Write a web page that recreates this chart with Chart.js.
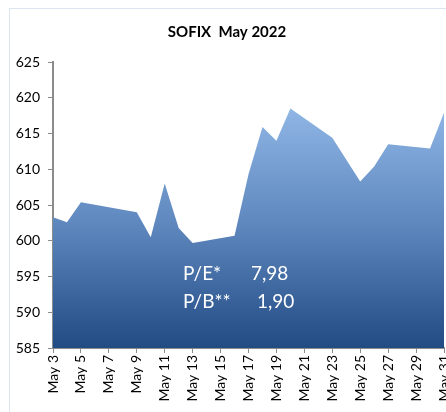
<!DOCTYPE html>
<html>
<head>
<meta charset="utf-8">
<script src="https://cdn.jsdelivr.net/npm/chart.js@4/dist/chart.umd.min.js"></script>
<style>
  body { margin: 0; overflow: hidden; background: #fff; width: 446px; height: 412px; }
  #box { position: absolute; left: 9px; top: 8px; width: 480px; height: 420px;
         border-left: 1px solid #dce6f2; border-top: 1px solid #dce6f2; }
  canvas { display: block; }
</style>
</head>
<body>
<div id="box"><canvas id="sofix" width="480" height="420"></canvas></div>
<script>
// every calendar day from May 3 to May 31, null = no trading
const days = [3,4,5,6,7,8,9,10,11,12,13,14,15,16,17,18,19,20,21,22,23,24,25,26,27,28,29,30,31];
const labels = days.map(d => "May " + d);
const sofix = [603.3, 602.6, 605.4, null, null, null, 604.0, 600.5, 608.0, 601.8, 599.7, null, null,
               600.7, 609.3, 615.9, 614.0, 618.5, null, null, 614.4, null, 608.3, 610.4, 613.5,
               null, null, 612.9, 617.9];
const notes = [["P/E*", "7,98"], ["P/B**", "1,90"]];

const FONT = "Lato, 'Open Sans', sans-serif";

// white P/E and P/B text inside the area
const notesPlugin = {
    id: "notes",
    afterDatasetsDraw(chart) {
        const ctx = chart.ctx;
        ctx.save();
        ctx.fillStyle = "#ffffff";
        ctx.font = "19px " + FONT;
        ctx.textBaseline = "alphabetic";
        ctx.fillText(notes[0][0], 173, 271);
        ctx.fillText(notes[0][1], 241, 271);
        ctx.fillText(notes[1][0], 173, 299);
        ctx.fillText(notes[1][1], 247, 299);
        ctx.restore();
    }
};

new Chart("sofix", {
    type: "line",
    data: {
        labels: labels,
        datasets: [{
            data: sofix,
            spanGaps: true,
            fill: "start",
            borderWidth: 0,
            pointRadius: 0,
            tension: 0,
            backgroundColor: function(context) {
                const area = context.chart.chartArea;
                if (!area) return "#5a82b8";
                const g = context.chart.ctx.createLinearGradient(0, area.top + 45, 0, area.bottom);
                g.addColorStop(0, "#8fb6e5");
                g.addColorStop(0.5, "#5d86bd");
                g.addColorStop(1, "#224a83");
                return g;
            }
        }]
    },
    options: {
        responsive: false,
        animation: false,
        devicePixelRatio: 1,
        layout: { padding: { left: 0, right: 46, top: 0, bottom: 0 } },
        plugins: {
            legend: { display: false },
            tooltip: { enabled: false },
            title: {
                display: true,
                text: "SOFIX  May 2022",
                color: "#000",
                font: { family: FONT, size: 15, weight: "bold" },
                padding: { top: 14, bottom: 21 }
            }
        },
        scales: {
            x: {
                offset: false,
                grid: { display: true, drawOnChartArea: false, tickLength: 5, color: "#8c8c8c", lineWidth: 1 },
                border: { color: "#8c8c8c", width: 2 },
                ticks: {
                    autoSkip: false,
                    maxRotation: 90,
                    minRotation: 90,
                    padding: 2,
                    color: "#000",
                    font: { family: FONT, size: 14 },
                    callback: function(value, index) {
                        return index % 2 === 0 ? this.getLabelForValue(value) : null;
                    }
                },
                afterFit(scale) { scale.height = 81; }
            },
            y: {
                min: 585,
                max: 625,
                grid: { display: true, drawOnChartArea: false, tickLength: 5, color: "#8c8c8c" },
                border: { color: "#8c8c8c", width: 2 },
                ticks: {
                    stepSize: 5,
                    padding: 8,
                    color: "#000",
                    font: { family: FONT, size: 14 }
                },
                afterFit(scale) { scale.width = 43; }
            }
        }
    },
    plugins: [notesPlugin]
});
</script>
</body>
</html>
